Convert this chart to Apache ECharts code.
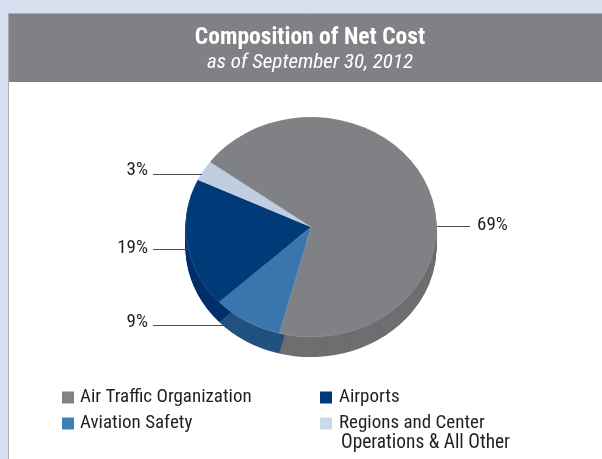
<!DOCTYPE html>
<html><head><meta charset="utf-8">
<style>html,body{margin:0;padding:0;background:#d5dff0;}#c{width:602px;height:459px;}</style>
<script src="https://cdn.jsdelivr.net/npm/echarts@6/dist/echarts.min.js"></script>
</head><body><div id="c"></div>
<script>
const categories = ['Air Traffic Organization','Aviation Safety','Airports','Regions and Center Operations & All Other'];
const values = [69, 9, 19, 3];
const topColors = ['#808184','#3a76ad','#003a78','#bfcfdf'];
const sideColors = ['#6d6e70','#215180','#002f69','#9fb0c0'];
const legendColors = ['#828386','#3c7dba','#02397c','#c9d9e9'];
const FONT = '"Roboto Condensed","Liberation Sans",sans-serif';
const PIE = {cx:311, cy:227, rx:125.5, ry:110, depth:20, startDeg:306.3};
const LABELS = [
  {x:477, y:225, align:'left',  line:[437,226.5,470,226.5]},
  {x:148, y:322, align:'right', line:[153,325.5,226,325.5]},
  {x:148, y:248, align:'right', line:[153,249.5,187,249.5]},
  {x:148, y:170, align:'right', line:[153,174.5,202,174.5]}
];
const total = values.reduce((a,b)=>a+b,0);
function renderSlice(idx){
  return function(params, api){
    const before = values.slice(0,idx).reduce((a,b)=>a+b,0);
    const a0 = (PIE.startDeg - 90 + before/total*360) * Math.PI/180;
    const a1 = a0 + api.value(0)/total*2*Math.PI;
    const sector = (dy, fill, z2, stroke) => ({
      type:'sector', x:PIE.cx, y:PIE.cy+dy, scaleX:1, scaleY:PIE.ry/PIE.rx, z2,
      shape:{cx:0,cy:0,r:PIE.rx,r0:0,startAngle:a0,endAngle:a1,clockwise:true},
      style:{fill, stroke:stroke||null, lineWidth:stroke?0.6:0}
    });
    const children = [];
    for(let d=PIE.depth; d>=1; d--) children.push(sector(d, sideColors[idx], 1));
    children.push(sector(0, topColors[idx], 10, 'rgba(255,255,255,0.22)'));
    const L = LABELS[idx];
    children.push({type:'line', z2:20, shape:{x1:L.line[0],y1:L.line[1],x2:L.line[2],y2:L.line[3]}, style:{stroke:'#4a4a4a',lineWidth:1}});
    children.push({type:'text', z2:20, style:{text:api.value(0)+'%', x:L.x, y:L.y, align:L.align, verticalAlign:'middle', fill:'#231f20', font:'19px '+FONT}});
    return {type:'group', children};
  };
}
const legendPos = [[62,388],[62,414],[320,388],[320,414]];
const chart = echarts.init(document.getElementById('c'));
chart.setOption({
  animation:false,
  backgroundColor:'transparent',
  title:{
    left:305, top:21, textAlign:'center', itemGap:2,
    text:'Composition of Net Cost',
    textStyle:{color:'#fff',fontFamily:FONT,fontWeight:'bold',fontSize:23.5},
    subtext:'as of September 30, 2012',
    subtextStyle:{color:'#fff',fontFamily:FONT,fontStyle:'italic',fontSize:21}
  },
  legend:categories.map((name,i)=>({
    show:true, selectedMode:false, orient:'horizontal', left:legendPos[i][0], top:legendPos[i][1],
    padding:0, itemWidth:12, itemHeight:12, itemGap:0, icon:'rect',
    data:[{name, itemStyle:{color:legendColors[i]}}],
    formatter:n=>n.startsWith('Regions')?'Regions and Center':n,
    textStyle:{color:'#231f20',fontFamily:FONT,fontSize:19,padding:[0,0,0,i>=2?2:1]}
  })),
  graphic:[
    {type:'rect', z:-10, shape:{x:8.5,y:13.5,width:600,height:450}, style:{fill:'#fff',stroke:'#a9abae',lineWidth:1}},
    {type:'rect', z:-9, shape:{x:9,y:14,width:593,height:68}, style:{fill:'#808184'}},
    {type:'text', z:5, style:{text:'Operations & All Other', x:341, y:443, verticalAlign:'middle', fill:'#231f20', font:'19.4px '+FONT}}
  ],
  series:categories.map((name,i)=>({
    type:'custom', name, coordinateSystem:'none', silent:true,
    itemStyle:{color:topColors[i]},
    renderItem:renderSlice(i),
    data:[[values[i]]]
  }))
});
</script></body></html>
